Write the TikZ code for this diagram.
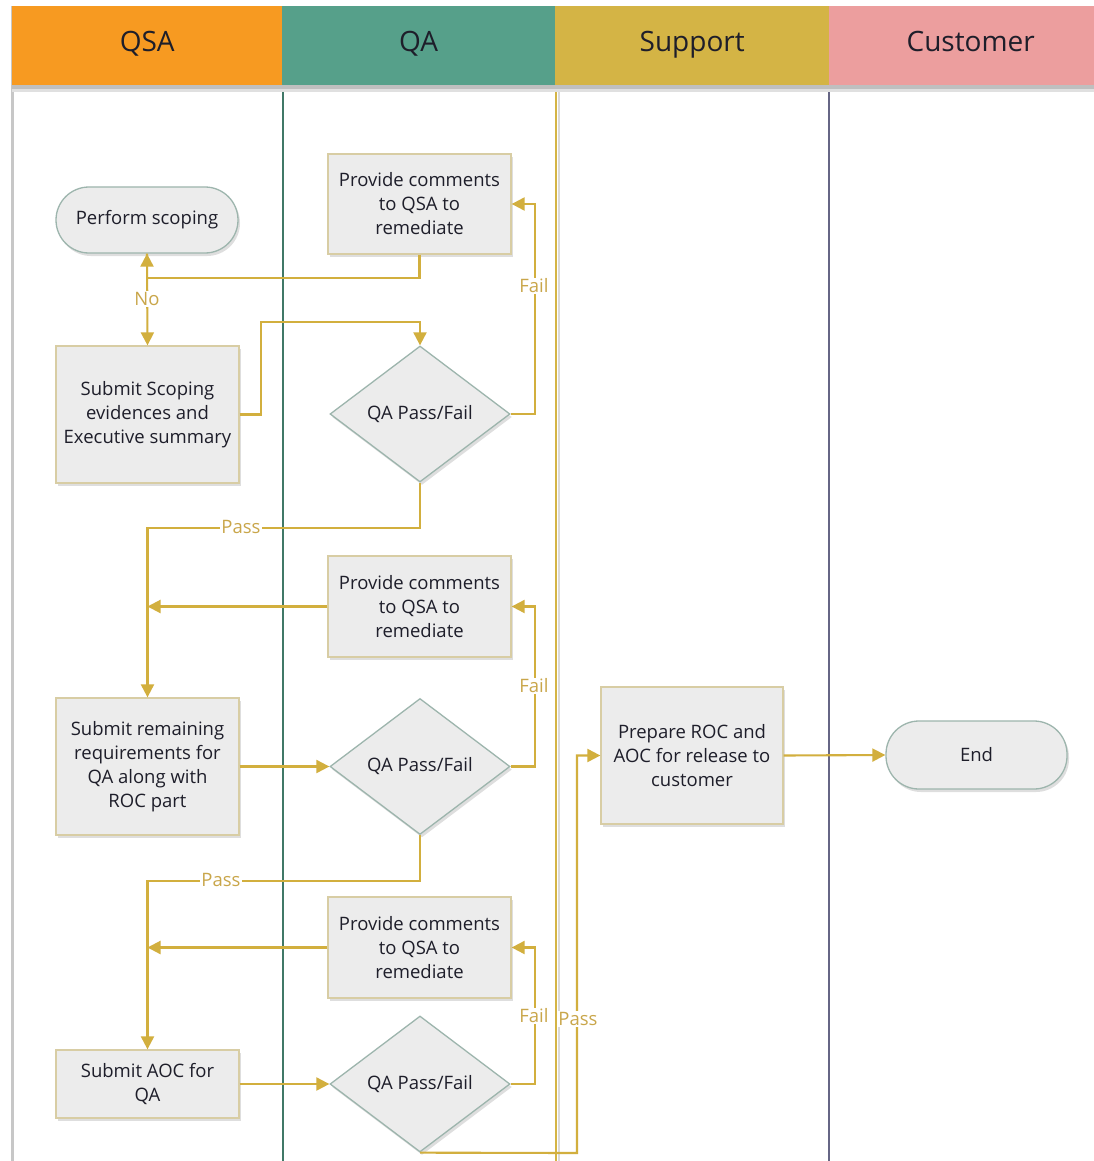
\documentclass[tikz,border=0pt]{standalone}
\usepackage{fontspec}
\setmainfont{Open Sans}
\usetikzlibrary{arrows.meta,shapes.geometric,shadows,calc}
\definecolor{cQSA}{HTML}{F79A21}
\definecolor{cQA}{HTML}{56A08A}
\definecolor{cSup}{HTML}{D4B445}
\definecolor{cCus}{HTML}{EC9E9E}
\definecolor{gold}{HTML}{D2AF3E}
\definecolor{goldtxt}{HTML}{C9A64A}
\definecolor{boxfill}{HTML}{ECECEC}
\definecolor{boxline}{HTML}{D8CDA4}
\definecolor{dialine}{HTML}{9DB5AD}
\definecolor{txt}{HTML}{1E1E2A}
\tikzset{
  hdr/.style={draw=none, minimum height=79pt, inner sep=0pt, anchor=north west, font=\fontsize{28}{30}\selectfont, text=txt},
  box/.style={draw=boxline, fill=boxfill, line width=1.3pt, align=center, inner sep=0pt, text=txt,
    font=\fontsize{18.5}{24}\selectfont, drop shadow={shadow xshift=2pt, shadow yshift=-3pt, opacity=0.13, fill=black}},
  term/.style={box, draw=dialine, rounded corners=33pt},
  dia/.style={box, draw=dialine, shape=diamond, minimum width=180pt, minimum height=136pt},
  conn/.style={draw=gold, line width=2.1pt, -{Triangle[length=13pt,width=13pt]}},
  lbl/.style={fill=white, inner sep=1pt, text=goldtxt, font=\fontsize{18.5}{20}\selectfont},
}
\begin{document}
\begin{tikzpicture}[x=1pt,y=-1pt]
\useasboundingbox (0,0) rectangle (1094,1161);
% lanes
\fill[white] (0,0) rectangle (1094,1161);
\draw[line width=3pt, draw=black!22] (12,6) -- (12,1161);
\draw[line width=2.8pt, draw=cQA!75!black] (283,85) -- (283,1161);
\draw[line width=2.8pt, draw=cSup] (556,85) -- (556,1161);
\draw[line width=1.2pt, draw=black!15] (559,85) -- (559,1161);
\draw[line width=2.4pt, draw=black!40!blue!20!gray] (829,85) -- (829,1161);
% header shadow
\fill[black!25] (12,85) rectangle (1094,89);
\fill[black!12] (12,89) rectangle (1094,92);
% headers
\node[hdr, fill=cQSA, minimum width=270pt] (hQSA) at (12,6) {\raisebox{9pt}{QSA}};
\node[hdr, fill=cQA, minimum width=273pt] (hQA) at (282,6) {\raisebox{9pt}{QA}};
\node[hdr, fill=cSup, minimum width=274pt] (hSup) at (555,6) {\raisebox{9pt}{Support}};
\node[hdr, fill=cCus, minimum width=265pt] (hCus) at (829,6) {\hspace{18pt}\raisebox{9pt}{Customer}};
% nodes
\node[term, minimum width=182pt, minimum height=66pt] (perf) at (147,220) {Perform scoping};
\node[box, minimum width=183pt, minimum height=137pt] (sub1) at (147.5,414.5) {Submit Scoping\\evidences and\\Executive summary};
\node[box, minimum width=183pt, minimum height=100pt] (pc1) at (419.5,204) {Provide comments\\to QSA to\\remediate};
\node[dia] (d1) at (420,414) {QA Pass/Fail};
\node[box, minimum width=183pt, minimum height=101pt] (pc2) at (419.5,606.5) {Provide comments\\to QSA to\\remediate};
\node[box, minimum width=183pt, minimum height=137pt] (sub2) at (147.5,766.5) {Submit remaining\\requirements for\\QA along with\\ROC part};
\node[dia] (d2) at (420,766.5) {QA Pass/Fail};
\node[box, minimum width=183pt, minimum height=101pt] (pc3) at (419.5,947.5) {Provide comments\\to QSA to\\remediate};
\node[box, minimum width=183pt, minimum height=68pt] (sub3) at (147.5,1084) {Submit AOC for\\QA};
\node[dia] (d3) at (420,1084) {QA Pass/Fail};
\node[box, minimum width=182pt, minimum height=137pt] (prep) at (692,755.5) {Prepare ROC and\\AOC for release to\\customer};
\node[term, minimum width=181pt, minimum height=68pt] (end) at (976.5,755) {End};
% connectors
\draw[conn] (pc1.south) -- ++(0,23) -| (perf.south);
\draw[conn] (perf.south) -- (sub1.north);
\draw[conn] (sub1.east) -- ++(21,0) |- ($(d1.north)+(0,-23)$) -- (d1.north);
\draw[conn] (d1.east) -- ++(24,0) |- (pc1.east);
\draw[conn] (d1.south) -- ++(0,45) -| (sub2.north);
\draw[conn] (pc2.west) -- (pc2.west -| sub2.north);
\draw[conn] (sub2.east) -- (d2.west);
\draw[conn] (d2.east) -- ++(24,0) |- (pc2.east);
\draw[conn] (d2.south) -- ++(0,46) -| (sub3.north);
\draw[conn] (pc3.west) -- (pc3.west -| sub3.north);
\draw[conn] (sub3.east) -- (d3.west);
\draw[conn] (d3.east) -- ++(24,0) |- (pc3.east);
\coordinate (passx) at (577,1153);
\draw[conn] (d3.south) -- (passx) |- (prep.west);
\draw[conn] (prep.east) -- (end.west);
% labels
\node[lbl] (lNo) at (147,299) {No};
\node[lbl] (lF1) at (534,286) {Fail};
\node[lbl] (lP1) at (241,527) {Pass};
\node[lbl] (lF2) at (534,686) {Fail};
\node[lbl] (lP2) at (221,880) {Pass};
\node[lbl] (lF3) at (534,1016) {Fail};
\node[lbl] (lP3) at (578,1019) {Pass};
\end{tikzpicture}
\end{document}
